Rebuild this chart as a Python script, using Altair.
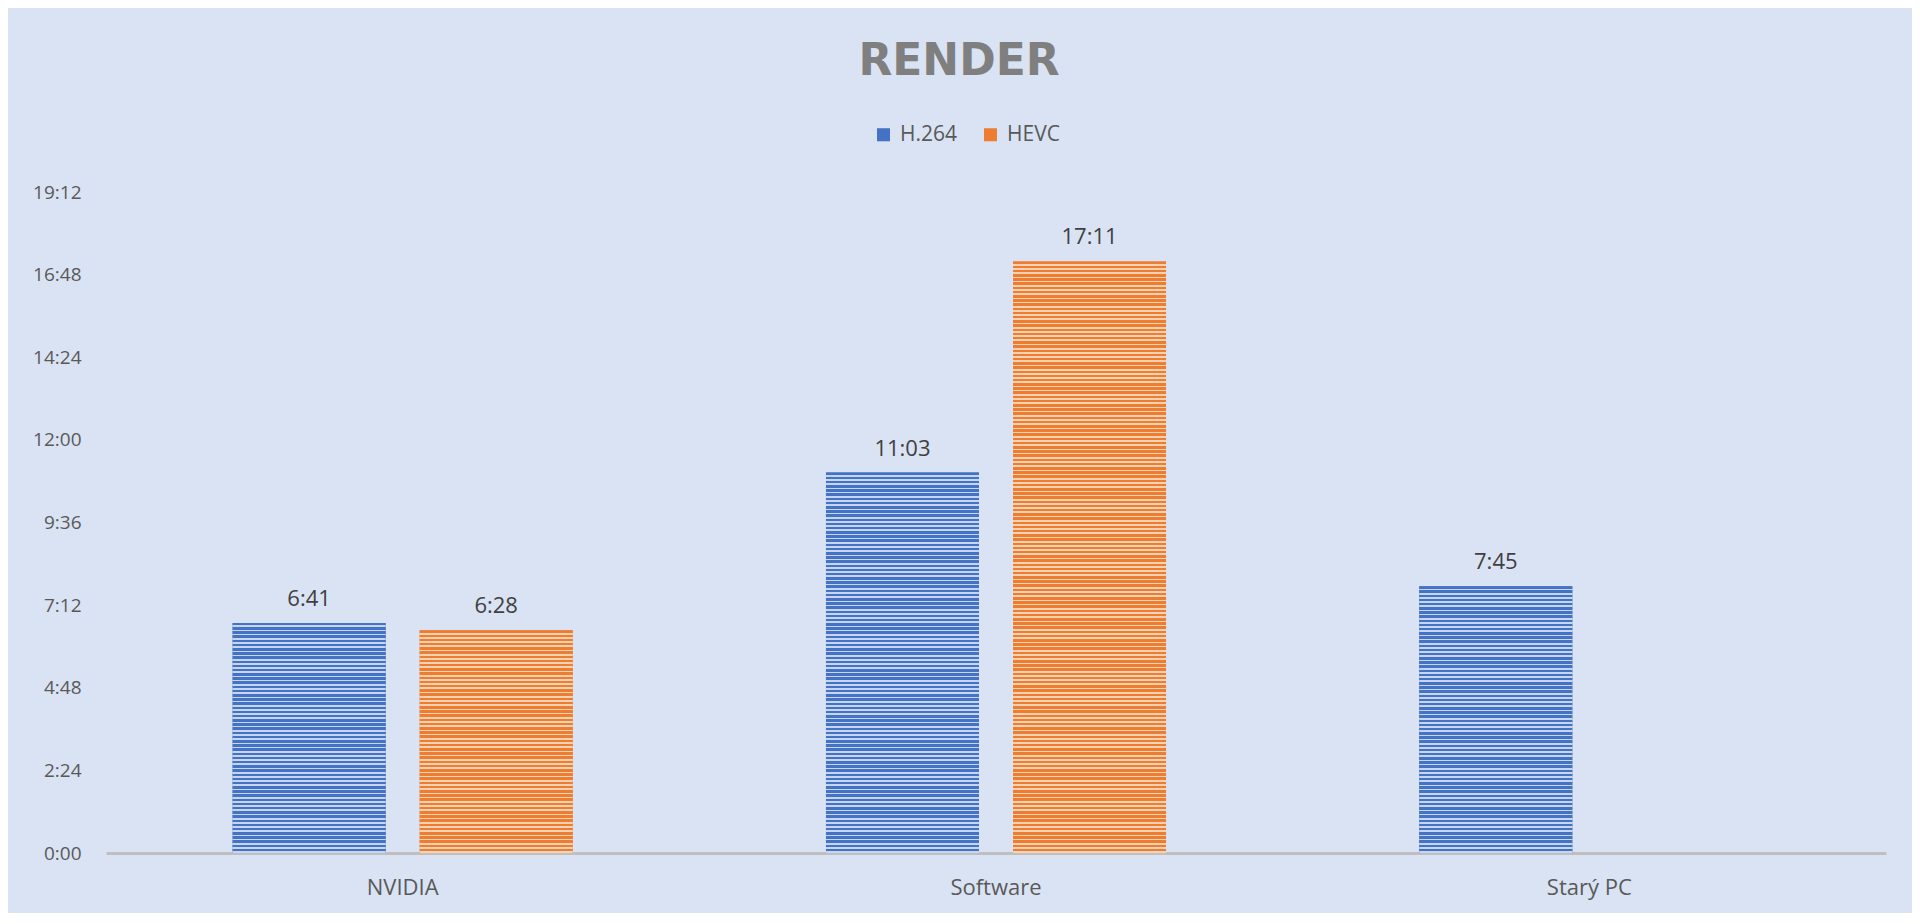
import altair as alt
import pandas as pd

# ---- data ----
categories = ["NVIDIA", "NVIDIA", "Software", "Software", "Starý PC"]
series = ["H.264", "HEVC", "H.264", "HEVC", "H.264"]
times = ["6:41", "6:28", "11:03", "17:11", "7:45"]
category_order = ["NVIDIA", "Software", "Starý PC"]
series_order = ["H.264", "HEVC"]
tick_values = [0, 144, 288, 432, 576, 720, 864, 1008, 1152]  # 0:00 .. 19:12

seconds = [int(t.split(":")[0]) * 60 + int(t.split(":")[1]) for t in times]
df = pd.DataFrame({
    "idx": list(range(len(times))),
    "category": categories,
    "series": series,
    "seconds": seconds,
    "label": times,
})

PLOT_W, PLOT_H = 1780, 661
Y_MAX = 1152
FONT = "Open Sans"
DARK = {"H.264": "#4472c4", "HEVC": "#ed7d31"}
LIGHT = {"H.264": "#c6d5f0", "HEVC": "#f9d2b4"}

y_enc = alt.Y(
    "seconds:Q",
    scale=alt.Scale(domain=[0, Y_MAX], nice=False),
    axis=alt.Axis(
        title=None, values=tick_values, domain=False, ticks=False, grid=False,
        labelPadding=25, labelFontSize=19, labelColor="#595959", labelFont=FONT,
        labelExpr="floor(datum.value/60) + ':' + (datum.value % 60 < 10 ? '0' : '') + (datum.value % 60)",
    ),
)
x_enc = alt.X(
    "category:N", sort=category_order,
    scale=alt.Scale(paddingInner=0, paddingOuter=0),
    axis=alt.Axis(
        title=None, labelAngle=0, ticks=False, domainColor="#bfbfbf", domainWidth=3,
        labelPadding=24, labelFontSize=22, labelColor="#595959", labelFont=FONT,
    ),
)
xoff_enc = alt.XOffset(
    "series:N",
    scale=alt.Scale(domain=series_order, paddingInner=0.182, paddingOuter=0.677),
)

base = alt.Chart(df).encode(x=x_enc, xOffset=xoff_enc, y=y_enc)

solid = base.mark_bar().encode(
    color=alt.Color(
        "series:N",
        scale=alt.Scale(domain=series_order, range=[DARK[s] for s in series_order]),
        legend=alt.Legend(
            title=None, orient="none", direction="horizontal", legendX=767, legendY=-68,
            symbolType="square", symbolSize=170, symbolStrokeWidth=0,
            labelFontSize=21, labelColor="#595959", labelFont=FONT, columnPadding=22,
            labelOffset=6,
        ),
    )
)


def stripes(sec, s):
    h = sec / Y_MAX * PLOT_H
    n = max(1, round(h / 4.2))
    stops = []
    for k in range(n):
        a = k / n
        b = (k + 0.6) / n
        c = (k + 1) / n
        stops += [
            alt.GradientStop(offset=a, color=DARK[s]),
            alt.GradientStop(offset=b, color=DARK[s]),
            alt.GradientStop(offset=b, color=LIGHT[s]),
            alt.GradientStop(offset=c, color=LIGHT[s]),
        ]
    return alt.Gradient(gradient="linear", stops=stops, x1=0, x2=0, y1=0, y2=1)


stripe_layers = [
    base.transform_filter(alt.datum.idx == i).mark_bar(fill=stripes(sec, s))
    for i, (sec, s) in enumerate(zip(seconds, series))
]

labels = base.mark_text(
    baseline="bottom", dy=-12, fontSize=22, font=FONT, color="#404040"
).encode(text="label:N")

chart = alt.layer(solid, *stripe_layers, labels).properties(
    width=PLOT_W, height=PLOT_H,
    title=alt.TitleParams(
        "RENDER", fontSize=44, font="DejaVu Sans", fontWeight="bold", color="#7f7f7f",
        anchor="middle", baseline="alphabetic", offset=5, dx=-37,
    ),
    background="#dae3f3",
    autosize=alt.AutoSizeParams(type="none"),
    padding={"left": 98, "top": 184, "right": 26, "bottom": 60},
).configure_view(strokeWidth=0)

chart.save("out.html", embed_options={"renderer": "svg", "actions": False})
